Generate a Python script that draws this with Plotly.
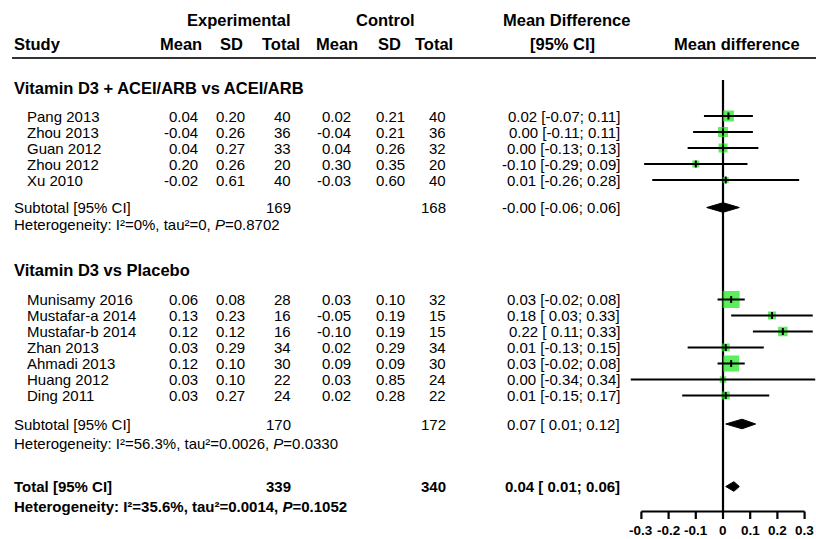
import math
import plotly.graph_objects as go

# ---------------- data ----------------
g1_label = "Vitamin D3 + ACEI/ARB vs ACEI/ARB"
g1_study = ["Pang 2013", "Zhou 2013", "Guan 2012", "Zhou 2012", "Xu 2010"]
g1_e_mean = [0.04, -0.04, 0.04, 0.20, -0.02]
g1_e_sd = [0.20, 0.26, 0.27, 0.26, 0.61]
g1_e_n = [40, 36, 33, 20, 40]
g1_c_mean = [0.02, -0.04, 0.04, 0.30, -0.03]
g1_c_sd = [0.21, 0.21, 0.26, 0.35, 0.60]
g1_c_n = [40, 36, 32, 20, 40]
g1_md = [0.02, 0.00, 0.00, -0.10, 0.01]
g1_lo = [-0.07, -0.11, -0.13, -0.29, -0.26]
g1_hi = [0.11, 0.11, 0.13, 0.09, 0.28]
g1_weight = [9.6, 8.0, 6.4, 3.9, 2.9]
g1_sub = dict(e_n=169, c_n=168, md=-0.0, lo=-0.06, hi=0.06)
g1_het = ("0%", "0", "0.8702")

g2_label = "Vitamin D3 vs Placebo"
g2_study = ["Munisamy 2016", "Mustafar-a 2014", "Mustafar-b 2014", "Zhan 2013",
            "Ahmadi 2013", "Huang 2012", "Ding 2011"]
g2_e_mean = [0.06, 0.13, 0.12, 0.03, 0.12, 0.03, 0.03]
g2_e_sd = [0.08, 0.23, 0.12, 0.29, 0.10, 0.10, 0.27]
g2_e_n = [28, 16, 16, 34, 30, 22, 24]
g2_c_mean = [0.03, -0.05, -0.10, 0.02, 0.09, 0.03, 0.02]
g2_c_sd = [0.10, 0.19, 0.19, 0.29, 0.09, 0.85, 0.28]
g2_c_n = [32, 15, 15, 34, 30, 24, 22]
g2_md = [0.03, 0.18, 0.22, 0.01, 0.03, 0.00, 0.01]
g2_lo = [-0.02, 0.03, 0.11, -0.13, -0.02, -0.34, -0.15]
g2_hi = [0.08, 0.33, 0.33, 0.15, 0.08, 0.34, 0.17]
g2_weight = [23.0, 5.1, 7.2, 5.1, 20.4, 3.3, 5.1]
g2_sub = dict(e_n=170, c_n=172, md=0.07, lo=0.01, hi=0.12)
g2_het = ("56.3%", "0.0026", "0.0330")

total = dict(e_n=339, c_n=340, md=0.04, lo=0.01, hi=0.06)
total_het = ("35.6%", "0.0014", "0.1052")

tick_vals = [-0.3, -0.2, -0.1, 0, 0.1, 0.2, 0.3]
tick_text = ["-0.3", "-0.2", "-0.1", "0", "0.1", "0.2", "0.3"]

# ---------------- layout constants ----------------
W, H = 816, 539
FONT = "Arial, Liberation Sans, sans-serif"
X0_PX, PX_PER_UNIT = 723.0, 272.0
XR = 0.34
dom = [(X0_PX - XR * PX_PER_UNIT) / W, (X0_PX + XR * PX_PER_UNIT) / W]

col_name = 25
col_study = 12
col_em, col_esd, col_en = 200, 247, 293
col_cm, col_csd, col_cn = 353, 407, 448
col_ci = 622
GREEN = "#14ea14"

fig = go.Figure()
ann = []


def txt(xpx, y, s, anchor="left", bold=False, size=15):
    if bold:
        s = "<b>" + s + "</b>"
    ann.append(dict(x=xpx / W, y=y, xref="paper", yref="y", text=s, showarrow=False,
                    xanchor=anchor, yanchor="middle",
                    font=dict(family=FONT, size=size, color="black")))


def ci_text(md, lo, hi):
    def f(v):
        s = f"{v:.2f}"
        return s if s.startswith("-") else " " + s
    return f"{md:.2f} [{f(lo)};{' ' + f'{hi:.2f}'}]".replace("[ -", "[-")


def fmt_ci(md, lo, hi):
    lo_s = f"{lo:.2f}"
    if not lo_s.startswith("-"):
        lo_s = " " + lo_s
    return f"{md:.2f} [{lo_s}; {hi:.2f}]"


# headers
txt(239, 20, "Experimental", "center", True, 16.5)
txt(385, 20, "Control", "center", True, 16.5)
txt(566, 20, "Mean Difference", "center", True, 16.5)
txt(col_study, 44, "Study", "left", True, 16.5)
txt(204, 44, "Mean", "right", True, 16.5)
txt(245, 44, "SD", "right", True, 16.5)
txt(302, 44, "Total", "right", True, 16.5)
txt(360, 44, "Mean", "right", True, 16.5)
txt(403, 44, "SD", "right", True, 16.5)
txt(455, 44, "Total", "right", True, 16.5)
txt(562, 44, "[95% CI]", "center", True, 16.5)
txt(737, 44, "Mean difference", "center", True, 16.5)

shapes = [dict(type="line", xref="paper", yref="y", x0=12 / W, x1=1, y0=58, y1=58,
               line=dict(color="#333333", width=2.2))]

PITCH = 16.0
groups = [
    dict(label=g1_label, label_y=87.5, first_y=116, study=g1_study, em=g1_e_mean, esd=g1_e_sd,
         en=g1_e_n, cm=g1_c_mean, csd=g1_c_sd, cn=g1_c_n, md=g1_md, lo=g1_lo, hi=g1_hi,
         w=g1_weight, sub=g1_sub, het=g1_het, sub_y=207.5, het_y=224.5),
    dict(label=g2_label, label_y=270, first_y=299.5, study=g2_study, em=g2_e_mean, esd=g2_e_sd,
         en=g2_e_n, cm=g2_c_mean, csd=g2_c_sd, cn=g2_c_n, md=g2_md, lo=g2_lo, hi=g2_hi,
         w=g2_weight, sub=g2_sub, het=g2_het, sub_y=424, het_y=443),
]

all_w = g1_weight + g2_weight
wmax = max(all_w)

sq_x, sq_y, sq_s = [], [], []
ln_x, ln_y = [], []
dm = []

for g in groups:
    txt(col_study, g["label_y"], g["label"], "left", True, 16.5)
    for i, name in enumerate(g["study"]):
        y = g["first_y"] + i * PITCH
        txt(col_name, y, name)
        txt(col_em, y, f"{g['em'][i]:.2f}", "right")
        txt(col_esd, y, f"{g['esd'][i]:.2f}", "right")
        txt(col_en, y, f"{g['en'][i]}", "right")
        txt(col_cm, y, f"{g['cm'][i]:.2f}", "right")
        txt(col_csd, y, f"{g['csd'][i]:.2f}", "right")
        txt(col_cn, y, f"{g['cn'][i]}", "right")
        txt(col_ci, y, fmt_ci(g["md"][i], g["lo"][i], g["hi"][i]), "right")
        sq_x.append(g["md"][i]); sq_y.append(y)
        sq_s.append(17 * math.sqrt(g["w"][i] / wmax))
        ln_x += [g["lo"][i], g["hi"][i], None]
        ln_y += [y, y, None]
    s = g["sub"]
    txt(col_study, g["sub_y"], "Subtotal [95% CI]")
    txt(col_en, g["sub_y"], f"{s['e_n']}", "right")
    txt(col_cn, g["sub_y"], f"{s['c_n']}", "right")
    txt(col_ci, g["sub_y"], fmt_ci(s["md"], s["lo"], s["hi"]), "right")
    i2, tau2, p = g["het"]
    txt(col_study, g["het_y"], f"Heterogeneity: I²={i2}, tau²={tau2}, <i>P</i>={p}")
    dm.append((s["md"], s["lo"], s["hi"], g["sub_y"]))

# total
TY, THY = 486.5, 506
txt(col_study, TY, "Total [95% CI]", "left", True)
txt(col_en, TY, f"{total['e_n']}", "right", True)
txt(col_cn, TY, f"{total['c_n']}", "right", True)
txt(col_ci, TY, fmt_ci(total["md"], total["lo"], total["hi"]), "right", True)
i2, tau2, p = total_het
txt(col_study, THY, f"Heterogeneity: I²={i2}, tau²={tau2}, <i>P</i>={p}", "left", True)
dm.append((total["md"], total["lo"], total["hi"], TY))

# forest: zero line
AXIS_Y = 511.5
fig.add_trace(go.Scatter(x=[0, 0], y=[80, AXIS_Y], mode="lines",
                         line=dict(color="black", width=2.2), hoverinfo="skip"))
# squares
fig.add_trace(go.Scatter(x=sq_x, y=sq_y, mode="markers",
                         marker=dict(symbol="square", size=sq_s, color=GREEN,
                                     line=dict(width=0)), hoverinfo="skip"))
# CI lines
fig.add_trace(go.Scatter(x=ln_x, y=ln_y, mode="lines",
                         line=dict(color="black", width=2.2), hoverinfo="skip"))
# centre ticks
fig.add_trace(go.Scatter(x=sq_x, y=sq_y, mode="markers",
                         marker=dict(symbol="line-ns", size=5,
                                     line=dict(width=2, color="black")), hoverinfo="skip"))
# diamonds
DH = 4.8
for md, lo, hi, y in dm:
    fig.add_trace(go.Scatter(x=[lo, md, hi, md, lo], y=[y, y - DH, y, y + DH, y],
                             mode="lines", fill="toself", fillcolor="black",
                             line=dict(color="black", width=1), hoverinfo="skip"))

# custom axis
fig.add_trace(go.Scatter(x=[tick_vals[0], tick_vals[-1]], y=[AXIS_Y, AXIS_Y], mode="lines",
                         line=dict(color="black", width=2.2), hoverinfo="skip"))
tx, ty = [], []
for v in tick_vals:
    tx += [v, v, None]
    ty += [AXIS_Y, AXIS_Y + 7.5, None]
fig.add_trace(go.Scatter(x=tx, y=ty, mode="lines",
                         line=dict(color="black", width=2.2), hoverinfo="skip"))
for v, t in zip(tick_vals, tick_text):
    ann.append(dict(x=v, y=530, xref="x", yref="y", text="<b>" + t + "</b>", showarrow=False,
                    xanchor="center", yanchor="middle",
                    font=dict(family=FONT, size=13.5, color="black")))

fig.update_layout(
    width=W, height=H, margin=dict(l=0, r=0, t=0, b=0),
    paper_bgcolor="white", plot_bgcolor="white", showlegend=False,
    xaxis=dict(domain=dom, range=[-XR, XR], visible=False, fixedrange=True),
    yaxis=dict(domain=[0, 1], range=[H, 0], visible=False, fixedrange=True),
    annotations=ann, shapes=shapes,
)
fig.write_html("out.html")
